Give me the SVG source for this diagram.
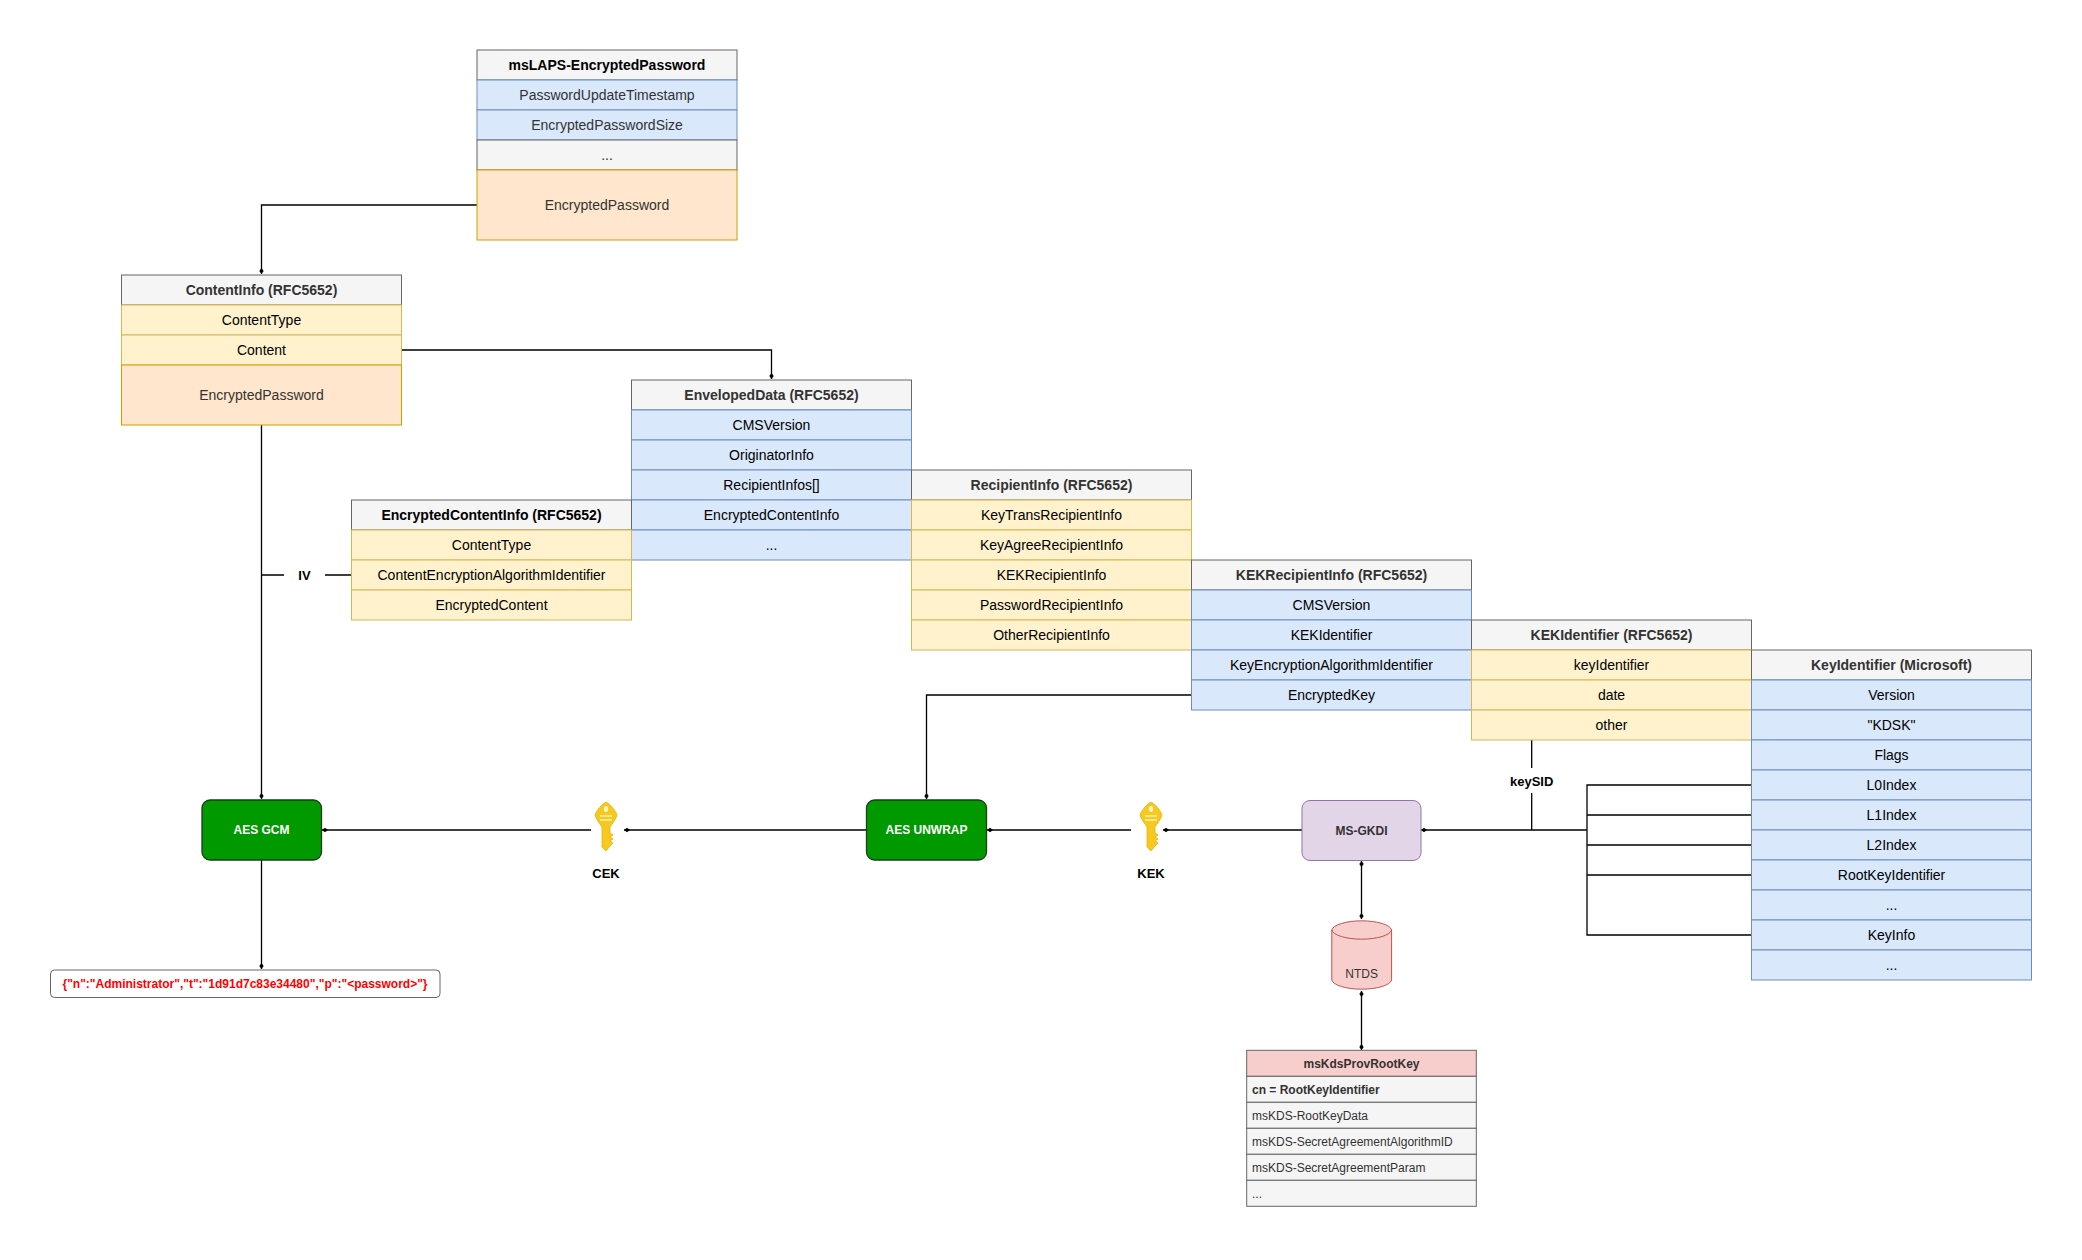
<svg xmlns="http://www.w3.org/2000/svg" width="2082" height="1260" viewBox="0 0 2082 1260">
<defs>
<style>
text{font-family:"Liberation Sans",Arial,sans-serif;fill:#333;font-size:14px;text-anchor:middle}
.h{fill:#f5f5f5;stroke:#666}
.b{fill:#dae8fc;stroke:#6c8ebf}
.y{fill:#fff2cc;stroke:#d6b656}
.o{fill:#ffe6cc;stroke:#d79b00}
.g{fill:#f5f5f5;stroke:#666}
.bold{font-weight:bold}
.c{fill:none;stroke:#000;stroke-width:1.3}
.l{text-anchor:start;font-size:12px}
</style>
<marker id="d" viewBox="0 0 8 8" refX="7" refY="4" markerWidth="8" markerHeight="8" markerUnits="userSpaceOnUse" orient="auto-start-reverse"><path d="M1,4 L4,1.8 7,4 4,6.2Z" fill="#000"/></marker>
<g id="key"><path d="M0,-27 C4,-25 10,-18 11,-14 C10,-10 6,-5 4,-2 L4,4 L7,6 L4,8 L7,10 L4,12 L7,14 L4,17 L0,22 L-4,18 L-4,-2 C-6,-5 -10,-10 -11,-14 C-10,-18 -4,-25 0,-27Z" fill="#f7c81e" stroke="#e6b400" stroke-width="0.8"/><ellipse cx="0" cy="-20" rx="2.2" ry="3" fill="#fff5c8"/><rect x="-6" y="-14" width="12" height="2" fill="#fde98a"/><rect x="-6" y="-10" width="12" height="2" fill="#fde98a"/></g>
</defs>
<rect width="2082" height="1260" fill="#fff"/>

<g id="connectors">
<path class="c" d="M477,205 H261.5 V274" marker-end="url(#d)"/>
<path class="c" d="M401.5,350 H771.5 V379" marker-end="url(#d)"/>
<path class="c" d="M261.5,425 V799" marker-end="url(#d)"/>
<path class="c" d="M261.5,575 H284 M325,575 H351.5"/>
<path class="c" d="M261.5,860 V969" marker-end="url(#d)"/>
<path class="c" d="M591,830 H322" marker-end="url(#d)"/>
<path class="c" d="M866.5,830 H624" marker-end="url(#d)"/>
<path class="c" d="M1191.5,695 H926.5 V799" marker-end="url(#d)"/>
<path class="c" d="M1131,830 H987" marker-end="url(#d)"/>
<path class="c" d="M1302,830 H1163" marker-end="url(#d)"/>
<path class="c" d="M1586.8,830 H1421" marker-end="url(#d)"/>
<path class="c" d="M1531.7,740 V768 M1531.7,793 V830"/>
<path class="c" d="M1751.5,785 H1587 V935 H1751.5 M1587,815 H1751.5 M1587,845 H1751.5 M1587,875 H1751.5"/>
<path class="c" d="M1361.5,861 V919" marker-start="url(#d)" marker-end="url(#d)"/>
<path class="c" d="M1361.5,991 V1050" marker-start="url(#d)" marker-end="url(#d)"/>
<text x="304.5" y="580" class="bold" style="fill:#000;font-size:13px">IV</text>
<text x="1531.7" y="786" class="bold" style="fill:#000;font-size:13px">keySID</text>
</g>

<g id="msLAPS">
<rect class="h" x="477" y="50" width="260" height="30"/><text x="607" y="70" class="bold" style="fill:#000">msLAPS-EncryptedPassword</text>
<rect class="b" x="477" y="80" width="260" height="30"/><text x="607" y="100">PasswordUpdateTimestamp</text>
<rect class="b" x="477" y="110" width="260" height="30"/><text x="607" y="130">EncryptedPasswordSize</text>
<rect class="g" x="477" y="140" width="260" height="30"/><text x="607" y="160">...</text>
<rect class="o" x="477" y="170" width="260" height="70"/><text x="607" y="210">EncryptedPassword</text>
</g>

<g id="ContentInfo">
<rect class="h" x="121.5" y="275" width="280" height="30"/><text x="261.5" y="295" class="bold">ContentInfo (RFC5652)</text>
<rect class="y" x="121.5" y="305" width="280" height="30"/><text x="261.5" y="325" style="fill:#000">ContentType</text>
<rect class="y" x="121.5" y="335" width="280" height="30"/><text x="261.5" y="355" style="fill:#000">Content</text>
<rect class="o" x="121.5" y="365" width="280" height="60"/><text x="261.5" y="400">EncryptedPassword</text>
</g>

<g id="EnvelopedData">
<rect class="h" x="631.5" y="380" width="280" height="30"/><text x="771.5" y="400" class="bold">EnvelopedData (RFC5652)</text>
<rect class="b" x="631.5" y="410" width="280" height="30"/><text x="771.5" y="430" style="fill:#000">CMSVersion</text>
<rect class="b" x="631.5" y="440" width="280" height="30"/><text x="771.5" y="460" style="fill:#000">OriginatorInfo</text>
<rect class="b" x="631.5" y="470" width="280" height="30"/><text x="771.5" y="490" style="fill:#000">RecipientInfos[]</text>
<rect class="b" x="631.5" y="500" width="280" height="30"/><text x="771.5" y="520" style="fill:#000">EncryptedContentInfo</text>
<rect class="b" x="631.5" y="530" width="280" height="30"/><text x="771.5" y="550" style="fill:#000">...</text>
</g>

<g id="EncryptedContentInfo">
<rect class="h" x="351.5" y="500" width="280" height="30"/><text x="491.5" y="520" class="bold" style="fill:#000">EncryptedContentInfo (RFC5652)</text>
<rect class="y" x="351.5" y="530" width="280" height="30"/><text x="491.5" y="550" style="fill:#000">ContentType</text>
<rect class="y" x="351.5" y="560" width="280" height="30"/><text x="491.5" y="580" style="fill:#000">ContentEncryptionAlgorithmIdentifier</text>
<rect class="y" x="351.5" y="590" width="280" height="30"/><text x="491.5" y="610" style="fill:#000">EncryptedContent</text>
</g>

<g id="RecipientInfo">
<rect class="h" x="911.5" y="470" width="280" height="30"/><text x="1051.5" y="490" class="bold">RecipientInfo (RFC5652)</text>
<rect class="y" x="911.5" y="500" width="280" height="30"/><text x="1051.5" y="520" style="fill:#000">KeyTransRecipientInfo</text>
<rect class="y" x="911.5" y="530" width="280" height="30"/><text x="1051.5" y="550" style="fill:#000">KeyAgreeRecipientInfo</text>
<rect class="y" x="911.5" y="560" width="280" height="30"/><text x="1051.5" y="580" style="fill:#000">KEKRecipientInfo</text>
<rect class="y" x="911.5" y="590" width="280" height="30"/><text x="1051.5" y="610" style="fill:#000">PasswordRecipientInfo</text>
<rect class="y" x="911.5" y="620" width="280" height="30"/><text x="1051.5" y="640" style="fill:#000">OtherRecipientInfo</text>
</g>

<g id="KEKRecipientInfo">
<rect class="h" x="1191.5" y="560" width="280" height="30"/><text x="1331.5" y="580" class="bold">KEKRecipientInfo (RFC5652)</text>
<rect class="b" x="1191.5" y="590" width="280" height="30"/><text x="1331.5" y="610" style="fill:#000">CMSVersion</text>
<rect class="b" x="1191.5" y="620" width="280" height="30"/><text x="1331.5" y="640" style="fill:#000">KEKIdentifier</text>
<rect class="b" x="1191.5" y="650" width="280" height="30"/><text x="1331.5" y="670" style="fill:#000">KeyEncryptionAlgorithmIdentifier</text>
<rect class="b" x="1191.5" y="680" width="280" height="30"/><text x="1331.5" y="700" style="fill:#000">EncryptedKey</text>
</g>

<g id="KEKIdentifier">
<rect class="h" x="1471.5" y="620" width="280" height="30"/><text x="1611.5" y="640" class="bold">KEKIdentifier (RFC5652)</text>
<rect class="y" x="1471.5" y="650" width="280" height="30"/><text x="1611.5" y="670" style="fill:#000">keyIdentifier</text>
<rect class="y" x="1471.5" y="680" width="280" height="30"/><text x="1611.5" y="700" style="fill:#000">date</text>
<rect class="y" x="1471.5" y="710" width="280" height="30"/><text x="1611.5" y="730" style="fill:#000">other</text>
</g>

<g id="KeyIdentifier">
<rect class="h" x="1751.5" y="650" width="280" height="30"/><text x="1891.5" y="670" class="bold">KeyIdentifier (Microsoft)</text>
<rect class="b" x="1751.5" y="680" width="280" height="30"/><text x="1891.5" y="700" style="fill:#000">Version</text>
<rect class="b" x="1751.5" y="710" width="280" height="30"/><text x="1891.5" y="730" style="fill:#000">"KDSK"</text>
<rect class="b" x="1751.5" y="740" width="280" height="30"/><text x="1891.5" y="760" style="fill:#000">Flags</text>
<rect class="b" x="1751.5" y="770" width="280" height="30"/><text x="1891.5" y="790" style="fill:#000">L0Index</text>
<rect class="b" x="1751.5" y="800" width="280" height="30"/><text x="1891.5" y="820" style="fill:#000">L1Index</text>
<rect class="b" x="1751.5" y="830" width="280" height="30"/><text x="1891.5" y="850" style="fill:#000">L2Index</text>
<rect class="b" x="1751.5" y="860" width="280" height="30"/><text x="1891.5" y="880" style="fill:#000">RootKeyIdentifier</text>
<rect class="b" x="1751.5" y="890" width="280" height="30"/><text x="1891.5" y="910" style="fill:#000">...</text>
<rect class="b" x="1751.5" y="920" width="280" height="30"/><text x="1891.5" y="940" style="fill:#000">KeyInfo</text>
<rect class="b" x="1751.5" y="950" width="280" height="30"/><text x="1891.5" y="970" style="fill:#000">...</text>
</g>

<g id="AESGCM">
<rect x="202" y="800" width="119.5" height="60" rx="8" fill="#009900" stroke="#1a3d1a" stroke-width="1.3"/>
<text x="261.5" y="834" class="bold" style="fill:#fff;font-size:12px">AES GCM</text>
</g>
<g id="AESUNWRAP">
<rect x="866.5" y="800" width="120" height="60" rx="8" fill="#009900" stroke="#1a3d1a" stroke-width="1.3"/>
<text x="926.5" y="834" class="bold" style="fill:#fff;font-size:12px">AES UNWRAP</text>
</g>
<g id="CEK">
<use href="#key" x="606" y="829"/>
<text x="606" y="878" class="bold" style="fill:#000;font-size:13px">CEK</text>
</g>
<g id="KEK">
<use href="#key" x="1151" y="829"/>
<text x="1151" y="878" class="bold" style="fill:#000;font-size:13px">KEK</text>
</g>
<g id="MSGKDI">
<rect x="1302" y="800.5" width="119" height="60" rx="8" fill="#e1d5e7" stroke="#9673a6"/>
<text x="1361.5" y="835" class="bold" style="font-size:12px">MS-GKDI</text>
</g>
<g id="NTDS">
<path d="M1331.8,930 A30,10 0 0 1 1391.6,930 V980 A30,10 0 0 1 1331.8,980 Z" fill="#f8cecc" stroke="#b85450"/>
<path d="M1331.8,930 A30,10 0 0 0 1391.6,930" fill="none" stroke="#b85450"/>
<text x="1361.7" y="978" style="font-size:12px">NTDS</text>
</g>
<g id="output">
<rect x="50.5" y="970" width="389.5" height="27.5" rx="4" fill="#fff" stroke="#666"/>
<text x="245" y="988" class="bold" style="fill:#f00;font-size:12px">{"n":"Administrator","t":"1d91d7c83e34480","p":"&lt;password&gt;"}</text>
</g>
<g id="msKdsProvRootKey">
<rect x="1246.7" y="1050.3" width="229.6" height="26" fill="#f8cecc" stroke="#666"/>
<text x="1361.5" y="1068" class="bold" style="font-size:12px">msKdsProvRootKey</text>
<rect x="1246.7" y="1076.3" width="229.6" height="26" class="g"/><text x="1252" y="1094" class="l bold">cn = RootKeyIdentifier</text>
<rect x="1246.7" y="1102.3" width="229.6" height="26" class="g"/><text x="1252" y="1120" class="l">msKDS-RootKeyData</text>
<rect x="1246.7" y="1128.3" width="229.6" height="26" class="g"/><text x="1252" y="1146" class="l">msKDS-SecretAgreementAlgorithmID</text>
<rect x="1246.7" y="1154.3" width="229.6" height="26" class="g"/><text x="1252" y="1172" class="l">msKDS-SecretAgreementParam</text>
<rect x="1246.7" y="1180.3" width="229.6" height="26" class="g"/><text x="1252" y="1198" class="l">...</text>
</g>
</svg>
